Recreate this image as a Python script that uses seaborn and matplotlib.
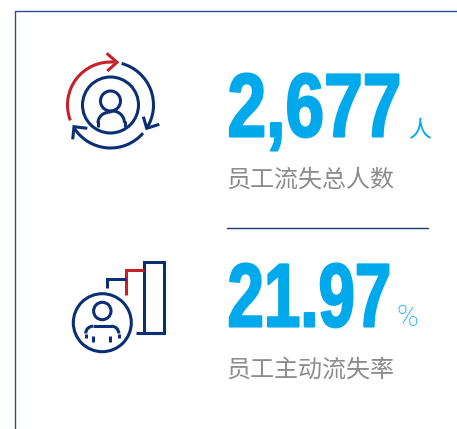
import matplotlib
matplotlib.use("Agg")
import matplotlib.pyplot as plt
from matplotlib.patches import Arc, Circle, Rectangle
from matplotlib.patheffects import AbstractPathEffect
from matplotlib.transforms import Affine2D
import seaborn as sns

# the two headline figures and their labels
values = ["2,677", "21.97"]
units = ["人", "%"]
labels = ["员工流失总人数", "员工主动流失率"]

navy = "#0b2f74"
red = "#c8202b"
blue = "#00a9ec"
grey = "#8c8c8c"
frame = "#2b4f8f"
cjk = ["Noto Sans CJK SC", "DejaVu Sans"]

sns.set_theme(style="white")

fig = plt.figure(figsize=(4.57, 4.29), dpi=100)
ax = fig.add_axes([0, 0, 1, 1])
ax.set_xlim(0, 457)
ax.set_ylim(429, 0)
ax.axis("off")


# no condensed font is installed, so squeeze the real text sideways and fatten it
class Squeeze(AbstractPathEffect):
    def __init__(self, sx, x0, fat):
        super().__init__()
        self.sx, self.x0, self.fat = sx, x0, fat

    def draw_path(self, renderer, gc, tpath, affine, rgbFace=None):
        t = affine + Affine2D().translate(-self.x0, 0).scale(self.sx, 1).translate(self.x0, 0)
        gc0 = renderer.new_gc()
        gc0.copy_properties(gc)
        gc0.set_foreground(rgbFace)
        gc0.set_linewidth(self.fat)
        renderer.draw_path(gc0, tpath, t, rgbFace)
        gc0.restore()


# frame, open on the right and at the bottom
ax.plot([457, 15, 15], [10.5, 10.5, 429], color=frame, lw=1.0)


def stroke(xs, ys, color=navy, lw=2.2):
    ax.plot(xs, ys, color=color, lw=lw, solid_capstyle="butt", solid_joinstyle="miter")


def arc(cx, cy, r, start, end, color=navy, lw=2.2):
    # angles are counted as seen on the page, the y axis is flipped
    ax.add_patch(Arc((cx, cy), 2 * r, 2 * r, theta1=-end, theta2=-start, color=color, lw=lw))


def ring(cx, cy, r, lw=2.2):
    ax.add_patch(Circle((cx, cy), r, fill=False, ec=navy, lw=lw))


# top icon, circular arrows round a person
arc(110.5, 105, 43, 85, 201, red)
arc(110.5, 105, 43, -33, 75)
arc(110.5, 105, 43, 212, 319)
stroke([106.7, 117, 107.3], [53.3, 62.3, 71], red)
stroke([143.3, 146.7, 159.3], [116.7, 128.3, 124.3])
stroke([72.7, 74, 87.3], [139.3, 126.7, 128.3])
ring(110.5, 105, 28)
ring(110.5, 101, 10)
stroke([98, 98], [127, 121])
arc(108.5, 123, 10.5, 90, 180)
arc(112.5, 123, 12, 0, 90)
stroke([108.5, 112.5], [112.5, 111])
stroke([124.5, 124.5], [121, 127])

# bottom icon, person and rising bars
ring(102.3, 322.7, 29)
ring(102.3, 311, 8.7)
arc(93, 333.5, 7.3, 90, 180)
arc(111.5, 333.5, 7.3, 0, 90)
stroke([93, 111.5], [326.2, 326.2])
stroke([85.7, 85.7], [333.5, 337.5])
stroke([119, 119], [333.5, 337.5])
stroke([93.3, 93.3], [335.7, 341.7])
stroke([110.3, 110.3], [335.7, 341.7])
ax.add_patch(Rectangle((144, 261.7), 19.5, 71, fill=False, ec=navy, lw=2.2))
stroke([135.5, 163.5], [333.3, 333.3])
stroke([126, 126, 144.3], [295, 270, 270], red)
stroke([106.7, 106.7, 126], [288.3, 279.3, 279.3])

# headline numbers
for val, y, sx in zip(values, [136.5, 326.5], [0.77, 0.725]):
    ax.text(227.5, y, val, family="Liberation Sans", weight="bold", fontsize=65, color=blue,
            ha="left", va="baseline", path_effects=[Squeeze(sx, 227.5, 1.5)])

# units
ax.text(408.5, 136, units[0], family=cjk, fontsize=16.5, color=blue, ha="left", va="baseline")
ax.text(396.5, 326, units[1], family="Roboto", weight="light", fontsize=21, color=blue,
        ha="left", va="baseline")

# captions
ax.text(226, 180, labels[0], family=cjk, fontsize=17.3, color=grey, ha="left", va="center")
ax.text(226, 370, labels[1], family=cjk, fontsize=17.3, color=grey, ha="left", va="center")

# divider
ax.plot([227, 428], [227.5, 227.5], color="#1f3a6e", lw=1.0)

fig.savefig("out.png", dpi=100)
